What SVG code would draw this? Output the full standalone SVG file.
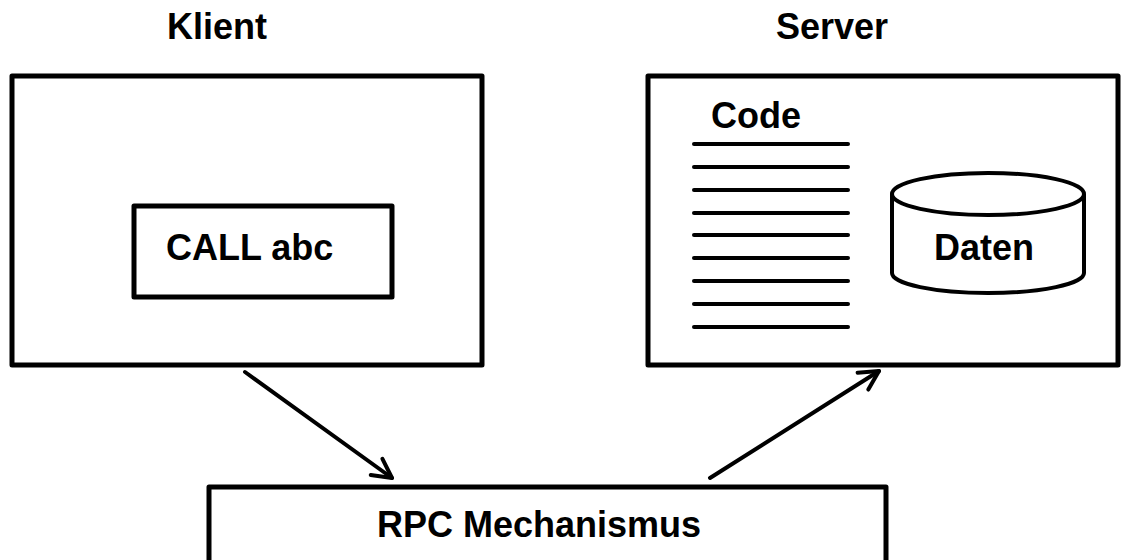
<svg xmlns="http://www.w3.org/2000/svg" width="1122" height="560" viewBox="0 0 1122 560">
  <style>
    .box { fill: #ffffff; stroke: #000000; stroke-width: 5; stroke-linejoin: round; }
    .lbl { font-family: "Liberation Sans", Arial, sans-serif; font-weight: bold; font-size: 36px; fill: #000000; }
    .codeline { stroke: #000000; stroke-width: 4; stroke-linecap: round; }
    .cyl { fill: #ffffff; stroke: #000000; stroke-width: 4; }
    .conn { fill: none; stroke: #000000; stroke-width: 4; stroke-linecap: round; }
  </style>
  <defs>
    <marker id="openArrow" markerUnits="userSpaceOnUse" markerWidth="30" markerHeight="30" viewBox="-24 -14 30 28" refX="0" refY="0" orient="auto">
      <path d="M -19 -10 L 0 0 L -19 10" fill="none" stroke="#000000" stroke-width="4" stroke-linecap="round" stroke-linejoin="round"/>
    </marker>
  </defs>
  <rect width="1122" height="560" fill="#ffffff"/>

  <!-- client side -->
  <g id="klient">
    <text class="lbl" x="167" y="39">Klient</text>
    <rect class="box" x="12" y="76" width="470" height="289"/>
  </g>
  <g id="call">
    <rect class="box" x="134" y="206" width="258" height="91"/>
    <text class="lbl" x="166" y="260">CALL abc</text>
  </g>

  <!-- server side -->
  <g id="server">
    <text class="lbl" x="776" y="39">Server</text>
    <rect class="box" x="648" y="76" width="470" height="289"/>
  </g>
  <g id="code">
    <text class="lbl" x="711" y="128">Code</text>
    <line class="codeline" x1="694" y1="144" x2="848" y2="144"/>
    <line class="codeline" x1="694" y1="167" x2="848" y2="167"/>
    <line class="codeline" x1="694" y1="190" x2="848" y2="190"/>
    <line class="codeline" x1="694" y1="213" x2="848" y2="213"/>
    <line class="codeline" x1="694" y1="235" x2="848" y2="235"/>
    <line class="codeline" x1="694" y1="258" x2="848" y2="258"/>
    <line class="codeline" x1="694" y1="281" x2="848" y2="281"/>
    <line class="codeline" x1="694" y1="304" x2="848" y2="304"/>
    <line class="codeline" x1="694" y1="327" x2="848" y2="327"/>
  </g>
  <g id="daten">
    <path class="cyl" d="M 892 194 L 892 273 A 96 20 0 0 0 1084 273 L 1084 194"/>
    <ellipse class="cyl" cx="988" cy="194" rx="96" ry="21"/>
    <text class="lbl" x="934" y="260">Daten</text>
  </g>

  <!-- middleware -->
  <g id="rpc">
    <rect class="box" x="209" y="487" width="677" height="80"/>
    <text class="lbl" x="377" y="537">RPC Mechanismus</text>
  </g>

  <g id="connectors">
    <line class="conn" x1="245" y1="372" x2="392" y2="478" marker-end="url(#openArrow)"/>
    <line class="conn" x1="710" y1="478" x2="879" y2="371" marker-end="url(#openArrow)"/>
  </g>
</svg>
